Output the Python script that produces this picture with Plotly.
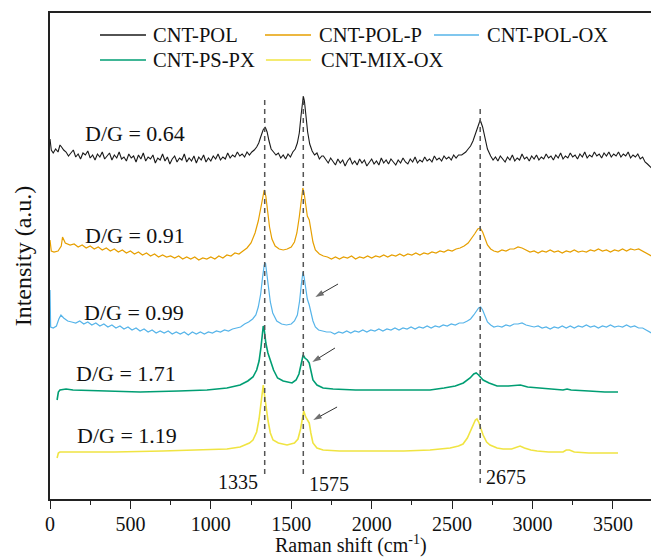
import plotly.graph_objects as go

# Raman spectra, stacked with vertical offsets (Raman shift in cm-1, intensity in a.u.)
cnt_pol = [
    (0, 360), (8, 349), (20, 346), (35, 350), (50, 347), (62, 354), (72, 352), (85, 349),
    (100, 347), (115, 343), (130, 346), (145, 349), (160, 342), (175, 345), (190, 340),
    (205, 346), (220, 344), (235, 348), (250, 341), (265, 344), (280, 339), (295, 345),
    (310, 342), (325, 347), (340, 340), (355, 343), (370, 346), (385, 339), (400, 344),
    (415, 341), (430, 347), (445, 340), (460, 342), (475, 338), (490, 345), (505, 341),
    (520, 343), (535, 337), (550, 344), (565, 340), (580, 346), (595, 338), (610, 342),
    (625, 340), (640, 344), (655, 336), (670, 341), (685, 339), (700, 345), (715, 338),
    (730, 342), (745, 335), (760, 340), (775, 343), (790, 337), (805, 341), (820, 339),
    (835, 345), (850, 337), (865, 341), (880, 338), (895, 343), (910, 336), (925, 342),
    (940, 339), (955, 344), (970, 337), (985, 341), (1000, 338), (1015, 343), (1030, 340),
    (1045, 345), (1060, 339), (1075, 342), (1090, 340), (1105, 346), (1120, 341),
    (1135, 344), (1150, 342), (1165, 347), (1180, 343), (1195, 345), (1210, 342),
    (1225, 347), (1240, 344), (1255, 347), (1270, 349), (1285, 352), (1298, 356),
    (1310, 362), (1325, 369), (1338, 372), (1350, 367), (1362, 358), (1375, 350),
    (1390, 347), (1405, 344), (1420, 346), (1435, 341), (1450, 344), (1465, 340),
    (1480, 345), (1495, 342), (1510, 347), (1525, 350), (1538, 356), (1550, 366),
    (1560, 382), (1568, 397), (1575, 403), (1582, 398), (1592, 383), (1602, 367),
    (1615, 355), (1630, 348), (1645, 344), (1660, 346), (1675, 340), (1690, 343),
    (1700, 343), (1715, 339), (1730, 336), (1745, 341), (1760, 337), (1775, 334),
    (1790, 340), (1805, 336), (1820, 339), (1835, 333), (1850, 338), (1865, 341),
    (1880, 335), (1895, 338), (1910, 334), (1925, 340), (1940, 336), (1955, 339),
    (1970, 333), (1985, 337), (2000, 340), (2015, 335), (2030, 338), (2045, 334),
    (2060, 341), (2075, 336), (2090, 339), (2105, 335), (2120, 340), (2135, 337),
    (2150, 334), (2165, 339), (2180, 336), (2195, 341), (2210, 337), (2225, 335),
    (2240, 340), (2255, 337), (2270, 342), (2285, 336), (2300, 339), (2315, 337),
    (2330, 342), (2345, 338), (2360, 340), (2375, 337), (2390, 343), (2405, 339),
    (2420, 341), (2435, 338), (2450, 343), (2465, 340), (2480, 342), (2495, 339),
    (2510, 344), (2525, 341), (2540, 344), (2560, 344), (2585, 347), (2600, 350),
    (2615, 353), (2630, 358), (2645, 365), (2660, 373), (2675, 379), (2690, 372),
    (2705, 360), (2720, 350), (2740, 343), (2755, 339), (2770, 342), (2785, 338),
    (2800, 343), (2815, 340), (2830, 337), (2845, 342), (2860, 339), (2875, 344),
    (2890, 338), (2905, 341), (2920, 339), (2935, 345), (2950, 340), (2965, 342),
    (2980, 338), (2995, 343), (3010, 340), (3025, 344), (3040, 339), (3055, 342),
    (3070, 340), (3085, 345), (3100, 341), (3115, 343), (3130, 339), (3145, 344),
    (3160, 341), (3175, 346), (3190, 340), (3205, 343), (3220, 341), (3235, 346),
    (3250, 342), (3265, 344), (3280, 340), (3295, 345), (3310, 342), (3325, 347),
    (3340, 341), (3355, 344), (3370, 342), (3385, 347), (3400, 343), (3415, 345),
    (3430, 341), (3445, 346), (3460, 343), (3475, 347), (3490, 342), (3505, 345),
    (3520, 343), (3535, 347), (3550, 342), (3565, 345), (3580, 343), (3595, 347),
    (3610, 341), (3625, 344), (3640, 342), (3655, 345), (3670, 340), (3685, 342),
    (3700, 337), (3715, 335), (3728, 333), (3740, 331),
]

cnt_pol_p = [
    (0, 259), (8, 248), (25, 247), (50, 248), (70, 253), (78, 262), (95, 256), (125, 254),
    (150, 255), (175, 252), (200, 254), (225, 251), (250, 253), (275, 250), (300, 252),
    (325, 249), (350, 251), (375, 248), (400, 250), (425, 247), (450, 249), (475, 246),
    (500, 248), (525, 245), (550, 247), (575, 244), (600, 246), (625, 243), (650, 245),
    (675, 242), (700, 244), (725, 242), (750, 243), (775, 241), (800, 243), (825, 240),
    (850, 242), (875, 240), (900, 242), (925, 239), (950, 241), (975, 240), (1000, 242),
    (1025, 240), (1050, 243), (1075, 241), (1100, 244), (1125, 243), (1150, 246),
    (1175, 245), (1200, 248), (1225, 251), (1250, 256), (1275, 266), (1295, 278),
    (1310, 292), (1322, 304), (1332, 309), (1342, 303), (1352, 290), (1365, 272),
    (1380, 260), (1400, 253), (1425, 250), (1450, 249), (1475, 250), (1500, 252),
    (1520, 257), (1535, 266), (1550, 282), (1562, 300), (1572, 311), (1580, 306),
    (1590, 293), (1600, 283), (1612, 279), (1622, 270), (1635, 257), (1650, 249),
    (1675, 245), (1700, 243), (1725, 242), (1750, 240), (1775, 242), (1800, 240),
    (1825, 242), (1850, 241), (1875, 243), (1900, 240), (1925, 242), (1950, 241),
    (1975, 243), (2000, 241), (2025, 243), (2050, 242), (2075, 244), (2100, 242),
    (2125, 244), (2150, 243), (2175, 245), (2200, 243), (2225, 245), (2250, 244),
    (2275, 246), (2300, 244), (2325, 246), (2350, 245), (2375, 247), (2400, 246),
    (2425, 248), (2450, 247), (2475, 249), (2500, 248), (2525, 250), (2550, 251),
    (2575, 253), (2600, 256), (2620, 260), (2640, 265), (2660, 270), (2675, 271),
    (2690, 267), (2705, 260), (2720, 254), (2740, 250), (2760, 248), (2785, 247),
    (2810, 249), (2835, 248), (2860, 250), (2885, 250), (2910, 252), (2935, 251),
    (2960, 249), (2985, 247), (3010, 248), (3035, 246), (3060, 248), (3085, 247),
    (3110, 249), (3135, 247), (3160, 248), (3185, 246), (3210, 248), (3235, 247),
    (3260, 249), (3285, 247), (3310, 248), (3335, 247), (3360, 249), (3385, 248),
    (3410, 250), (3435, 248), (3460, 249), (3485, 247), (3510, 249), (3535, 248),
    (3560, 250), (3585, 248), (3610, 250), (3635, 249), (3660, 250), (3685, 248),
    (3705, 246), (3725, 244), (3740, 243),
]

cnt_pol_ox = [
    (0, 209), (4, 172), (20, 171), (40, 173), (55, 180), (68, 184), (85, 181), (110, 178),
    (135, 177), (160, 176), (185, 178), (210, 175), (235, 177), (260, 174), (285, 176),
    (310, 173), (335, 175), (360, 172), (385, 174), (410, 171), (435, 173), (460, 170),
    (485, 172), (510, 169), (535, 171), (560, 168), (585, 170), (610, 167), (635, 169),
    (660, 166), (685, 168), (710, 166), (735, 168), (760, 165), (785, 167), (810, 165),
    (835, 167), (860, 164), (885, 167), (910, 165), (935, 167), (960, 165), (985, 167),
    (1010, 166), (1035, 168), (1060, 167), (1085, 169), (1110, 168), (1135, 170),
    (1160, 171), (1185, 172), (1210, 175), (1235, 177), (1260, 180), (1280, 184),
    (1295, 192), (1310, 205), (1322, 222), (1332, 234), (1340, 236), (1348, 226),
    (1358, 210), (1370, 197), (1385, 186), (1410, 178), (1440, 175), (1470, 174),
    (1500, 175), (1520, 178), (1538, 184), (1552, 198), (1563, 215), (1573, 227),
    (1580, 222), (1590, 208), (1600, 200), (1612, 194), (1622, 188), (1635, 178),
    (1650, 172), (1670, 169), (1695, 168), (1720, 167), (1745, 167), (1770, 165),
    (1795, 167), (1820, 166), (1845, 168), (1870, 166), (1895, 168), (1920, 167),
    (1945, 169), (1970, 167), (1995, 169), (2020, 168), (2045, 170), (2070, 168),
    (2095, 170), (2120, 169), (2145, 171), (2170, 169), (2195, 171), (2220, 170),
    (2245, 172), (2270, 170), (2295, 172), (2320, 171), (2345, 173), (2370, 171),
    (2395, 173), (2420, 172), (2445, 174), (2470, 173), (2495, 175), (2520, 174),
    (2545, 176), (2570, 176), (2595, 178), (2615, 180), (2635, 184), (2650, 188),
    (2665, 191), (2678, 192), (2690, 189), (2705, 183), (2720, 177), (2740, 174),
    (2760, 172), (2785, 173), (2810, 172), (2835, 174), (2860, 173), (2885, 175),
    (2910, 175), (2935, 176), (2960, 174), (2985, 173), (3010, 172), (3035, 173),
    (3060, 171), (3085, 172), (3110, 170), (3135, 172), (3160, 171), (3185, 173),
    (3210, 171), (3235, 173), (3260, 171), (3285, 173), (3310, 172), (3335, 174),
    (3360, 172), (3385, 173), (3410, 171), (3435, 173), (3460, 172), (3485, 174),
    (3510, 172), (3535, 173), (3560, 172), (3585, 174), (3610, 172), (3635, 173),
    (3660, 171), (3685, 171), (3705, 169), (3725, 167), (3740, 166),
]

cnt_ps_px = [
    (44, 99), (52, 107), (62, 109), (100, 110), (143, 109), (300, 108), (560, 107),
    (800, 108), (976, 109), (1100, 111), (1182, 114), (1230, 118), (1262, 122),
    (1285, 129), (1300, 138), (1312, 152), (1320, 166), (1326, 173), (1333, 168),
    (1342, 156), (1355, 146), (1370, 139), (1390, 129), (1415, 121), (1450, 118),
    (1505, 116), (1530, 119), (1548, 125), (1560, 134), (1568, 142), (1574, 144),
    (1585, 141), (1600, 139), (1612, 136), (1622, 128), (1635, 119), (1660, 114),
    (1698, 111), (1760, 110), (1900, 109), (2100, 109), (2363, 109), (2450, 111),
    (2520, 113), (2570, 116), (2612, 121), (2635, 125), (2650, 126), (2665, 124),
    (2693, 119), (2730, 116), (2780, 113), (2850, 113), (2900, 114), (2925, 114),
    (2970, 112), (3029, 111), (3100, 110), (3190, 109), (3215, 110), (3240, 109),
    (3350, 108), (3450, 107), (3532, 107),
]

cnt_mix_ox = [
    (44, 41), (52, 46), (62, 47), (143, 47), (400, 47), (700, 48), (976, 49), (1100, 50),
    (1182, 52), (1240, 56), (1262, 59), (1285, 67), (1300, 80), (1312, 97), (1320, 110),
    (1326, 114), (1333, 105), (1342, 92), (1356, 78), (1370, 66), (1387, 59), (1420, 56),
    (1474, 54), (1520, 56), (1542, 60), (1558, 70), (1570, 84), (1578, 88), (1590, 82),
    (1602, 78), (1612, 76), (1622, 66), (1635, 56), (1660, 51), (1698, 49), (1800, 48),
    (2000, 48), (2200, 48), (2363, 49), (2488, 51), (2540, 53), (2568, 55), (2595, 61),
    (2612, 67), (2630, 74), (2645, 79), (2655, 80), (2668, 76), (2680, 70), (2693, 64),
    (2715, 57), (2736, 54), (2780, 51), (2817, 50), (2870, 50), (2900, 52), (2923, 53),
    (2950, 51), (2990, 49), (3029, 48), (3100, 47), (3190, 47), (3210, 49), (3230, 49),
    (3260, 47), (3350, 46), (3450, 46), (3532, 46),
]

series_names = ["CNT-POL", "CNT-POL-P", "CNT-POL-OX", "CNT-PS-PX", "CNT-MIX-OX"]
series_colors = ["#1a1a1a", "#E69F00", "#56B4E9", "#009E73", "#F0E442"]
series_widths = [1.1, 1.2, 1.2, 1.6, 1.6]
spectra = [cnt_pol, cnt_pol_p, cnt_pol_ox, cnt_ps_px, cnt_mix_ox]

dg_ratios = [0.64, 0.91, 0.99, 1.71, 1.19]
peak_positions = [1335, 1575, 2675]
x_tick_values = [0, 500, 1000, 1500, 2000, 2500, 3000, 3500]

FONT = "Liberation Serif"

fig = go.Figure()
for name, color, width, spec in zip(series_names, series_colors, series_widths, spectra):
    xs, ys = zip(*spec)
    fig.add_trace(go.Scatter(
        x=list(xs), y=list(ys), mode="lines", name=name,
        line=dict(color=color, width=width), showlegend=False, hoverinfo="skip",
    ))

# arrows pointing at the G-band shoulder (tail -> head)
arrow_specs = [((1791, 215), (1650, 202)), ((1772, 151), (1631, 137)), ((1785, 92), (1637, 79))]
for (tx, ty), (hx, hy) in arrow_specs:
    fig.add_trace(go.Scatter(
        x=[tx, hx], y=[ty, hy], mode="lines+markers", showlegend=False, hoverinfo="skip",
        line=dict(color="#333333", width=1),
        marker=dict(symbol=["circle", "arrow"], size=[0, 9], angleref="previous",
                    color="#333333", line=dict(width=0)),
    ))

shapes = []
annotations = []

# dashed guides at the D, G and 2D band positions
guide_spans = {1335: (25, 402), 1575: (25, 402), 2675: (16, 394)}
for pos in peak_positions:
    y0, y1 = guide_spans[pos]
    shapes.append(dict(type="line", xref="x", yref="y", x0=pos, x1=pos, y0=y0, y1=y1,
                       line=dict(color="#555555", width=1.5, dash="5px,4px"), layer="above"))

label_layout = {1335: ("right", -5, 17), 1575: ("left", 4, 15), 2675: ("left", 4, 22)}
for pos in peak_positions:
    anchor, shift, ly = label_layout[pos]
    annotations.append(dict(x=pos, y=ly, xref="x", yref="y", text=str(pos), showarrow=False,
                            xanchor=anchor, yanchor="middle", xshift=shift,
                            font=dict(family=FONT, size=20, color="#111")))

# D/G intensity ratio labels, one per spectrum
dg_label_pos = [(205, 366), (205, 264), (200, 187), (150, 126), (155, 64)]
for ratio, (lx, ly) in zip(dg_ratios, dg_label_pos):
    annotations.append(dict(x=lx, y=ly, xref="x", yref="y", text=f"D/G = {ratio:.2f}",
                            showarrow=False, xanchor="left", yanchor="middle",
                            font=dict(family=FONT, size=22, color="#111")))

# x-axis title placed under the tick labels
annotations.append(dict(x=0.5, y=-0.0926, xref="paper", yref="paper",
                        text="Raman shift (cm<sup>-1</sup>)", showarrow=False,
                        xanchor="center", yanchor="middle",
                        font=dict(family=FONT, size=20, color="#111")))

# legend drawn as line samples with text, two rows
legend_rows = [0.9547, 0.9033]
legend_layout = [(0, 0, 0.0832, 0.1597, 0.168), (1, 0, 0.3577, 0.4343, 0.4443),
                 (2, 0, 0.6389, 0.7138, 0.7238), (3, 1, 0.0832, 0.1597, 0.168),
                 (4, 1, 0.3593, 0.4343, 0.4476)]
for idx, row, lx0, lx1, tx in legend_layout:
    yy = legend_rows[row]
    shapes.append(dict(type="line", xref="paper", yref="paper", x0=lx0, x1=lx1, y0=yy, y1=yy,
                       line=dict(color=series_colors[idx], width=1.5)))
    annotations.append(dict(x=tx, y=yy, xref="paper", yref="paper", text=series_names[idx],
                            showarrow=False, xanchor="left", yanchor="middle",
                            font=dict(family=FONT, size=20.5, color="#111")))

fig.update_layout(
    width=651, height=557,
    margin=dict(l=50, r=0, t=13, b=58),
    paper_bgcolor="white", plot_bgcolor="white",
    font=dict(family=FONT, color="#111"),
    shapes=shapes, annotations=annotations,
    xaxis=dict(
        range=[0, 3737], tickvals=x_tick_values, ticks="outside", ticklen=8, tickwidth=1.3,
        tickcolor="#222", tickfont=dict(family=FONT, size=20, color="#111"),
        ticklabelstandoff=-2,
        minor=dict(dtick=250, ticks="outside", ticklen=4, tickwidth=1.2, tickcolor="#222"),
        showline=True, linecolor="#222", linewidth=1.5, mirror=True,
        showgrid=False, zeroline=False,
    ),
    yaxis=dict(
        range=[0, 486], showticklabels=False, ticks="", showline=True, linecolor="#222",
        linewidth=1.5, mirror=False, showgrid=False, zeroline=False,
        title=dict(text="Intensity (a.u.)", font=dict(family=FONT, size=24, color="#111"),
                   standoff=10),
    ),
)

fig.write_html("out.html")
